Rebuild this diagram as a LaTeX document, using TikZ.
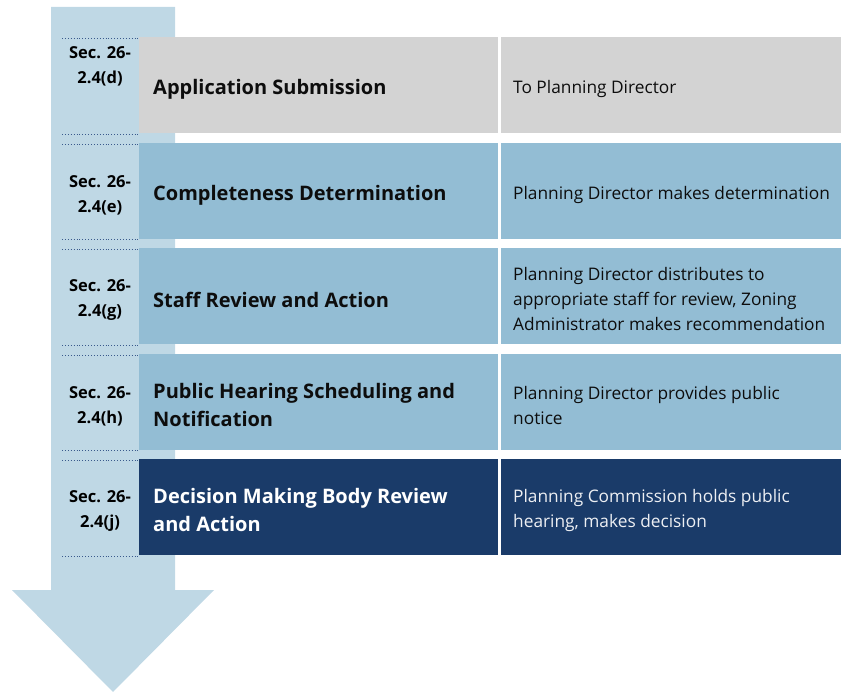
\documentclass[tikz,border=0pt]{standalone}
\usepackage{fontspec}
\setmainfont{Open Sans}
\definecolor{arrowblue}{HTML}{BFD8E5}
\definecolor{greybox}{HTML}{D3D3D3}
\definecolor{midblue}{HTML}{93BDD4}
\definecolor{navy}{HTML}{1A3B69}
\definecolor{dotblue}{HTML}{3A5A8C}
\definecolor{inkblack}{HTML}{0D0D0D}
\tikzset{
  rowbox/.style={rectangle, anchor=north west, minimum height=96pt, inner sep=0pt},
  titlebox/.style={rowbox, minimum width=359pt},
  descbox/.style={rowbox, minimum width=340pt},
  titletext/.style={anchor=west, inner sep=0pt, align=left, font=\bfseries\fontsize{20}{28}\selectfont, text=inkblack},
  desctext/.style={anchor=west, inner sep=0pt, align=left, font=\fontsize{17.3}{25}\selectfont, text=inkblack},
  seclabel/.style={align=center, font=\bfseries\fontsize{16.5}{25}\selectfont, text=black, inner sep=0pt},
  sepline/.style={dotblue, dotted, line width=0.9pt}
}
\begin{document}
\begin{tikzpicture}[x=1pt,y=-1pt]
\useasboundingbox (0,0) rectangle (841,692);
% big arrow
\fill[arrowblue] (51,7) -- (175,7) -- (175,590) -- (214,590) -- (113,692) -- (12,590) -- (51,590) -- cycle;
% row boxes
\node[titlebox, fill=greybox] (t1) at (139,37) {};
\node[descbox, fill=greybox] (d1) at (501,37) {};
\node[titlebox, fill=midblue] (t2) at (139,143) {};
\node[descbox, fill=midblue] (d2) at (501,143) {};
\node[titlebox, fill=midblue] (t3) at (139,248) {};
\node[descbox, fill=midblue] (d3) at (501,248) {};
\node[titlebox, fill=midblue] (t4) at (139,354) {};
\node[descbox, fill=midblue] (d4) at (501,354) {};
\node[titlebox, fill=navy] (t5) at (139,459) {};
\node[descbox, fill=navy] (d5) at (501,459) {};
% texts
\node[titletext] (tt1) at ([xshift=14pt,yshift=-4pt]t1.west) {Application Submission};
\node[desctext] (dt1) at ([xshift=12pt,yshift=-4pt]d1.west) {To Planning Director};
\node[titletext] (tt2) at ([xshift=14pt,yshift=-4pt]t2.west) {Completeness Determination};
\node[desctext] (dt2) at ([xshift=12pt,yshift=-4pt]d2.west) {Planning Director makes determination};
\node[titletext] (tt3) at ([xshift=14pt,yshift=-4pt]t3.west) {Staff Review and Action};
\node[desctext] (dt3) at ([xshift=12pt,yshift=-3pt]d3.west) {Planning Director distributes to\\appropriate staff for review, Zoning\\Administrator makes recommendation};
\node[titletext] (tt4) at ([xshift=14pt,yshift=-3pt]t4.west) {Public Hearing Scheduling and\\Notification};
\node[desctext] (dt4) at ([xshift=12pt,yshift=-3pt]d4.west) {Planning Director provides public\\notice};
\node[titletext, text=white] (tt5) at ([xshift=14pt,yshift=-3pt]t5.west) {Decision Making Body Review\\and Action};
\node[desctext, text=white!92!navy] (dt5) at ([xshift=12pt,yshift=-3pt]d5.west) {Planning Commission holds public\\hearing, makes decision};
% section labels
\node[seclabel] (s1) at (100,66) {Sec. 26-\\2.4(d)};
\node[seclabel] (s2) at (100,195) {Sec. 26-\\2.4(e)};
\node[seclabel] (s3) at (100,300) {Sec. 26-\\2.4(g)};
\node[seclabel] (s4) at (100,406) {Sec. 26-\\2.4(h)};
\node[seclabel] (s5) at (100,511) {Sec. 26-\\2.4(j)};
% dotted separators
\foreach \y in {38,134,144,239,249,345,355,450,460,556} {
  \draw[sepline] (62,\y) -- (138,\y);
}
\end{tikzpicture}
\end{document}
